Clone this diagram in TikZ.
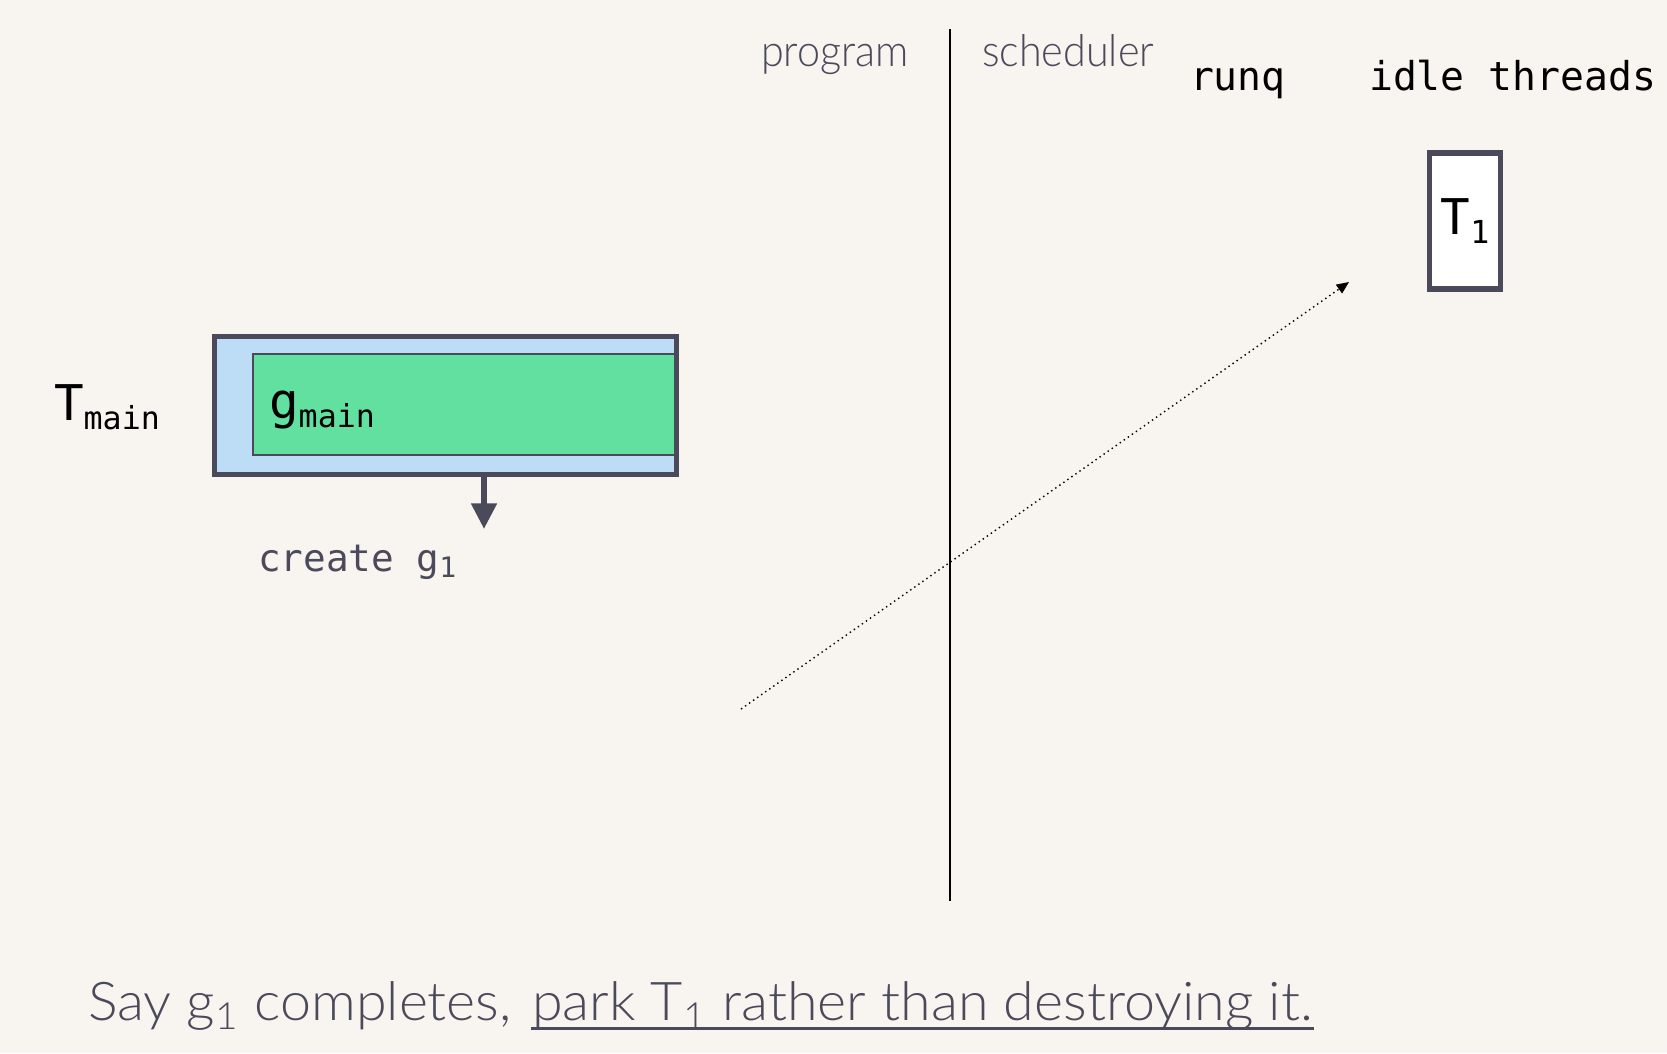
\documentclass[tikz,border=0pt]{standalone}
\usepackage{fontspec}
\setmainfont{Lato}
\setmonofont{DejaVu Sans Mono}
\newfontfamily\capfont[FakeStretch=1.04]{Lato Light}
\newfontfamily\labfont[FakeStretch=0.94]{Lato Light}
\usetikzlibrary{arrows.meta, positioning}
\definecolor{bgcol}{RGB}{248,244,240}
\definecolor{ink}{RGB}{74,74,90}
\definecolor{threadblue}{RGB}{189,220,245}
\definecolor{gorgreen}{RGB}{98,224,160}
\tikzset{every path/.style={semithick}}
\newcommand{\monosub}[2]{#1\raisebox{-0.35ex}{\fontsize{9}{9}\selectfont #2}}

\begin{document}
\begin{tikzpicture}[x=0.01cm, y=-0.01cm,
    label/.style={inner sep=0pt, anchor=base west},
    thread/.style={draw=ink, line width=1.45pt, inner sep=0pt},
  ]
    \fill[bgcol] (0,0) rectangle (1667,1053);

    % program / scheduler split
    \coordinate (top) at (950,29);
    \coordinate (bottom) at (950,901);
    \draw[line width=0.75pt] (top) -- (bottom);
    \node[label, text=ink, font=\labfont\fontsize{12.5}{12.5}\selectfont] (prog) at (760,66) {program};
    \node[label, text=ink, font=\labfont\fontsize{12.5}{12.5}\selectfont] (sched) at (981,66) {scheduler};

    \node[label, font=\ttfamily\fontsize{11.3}{11.3}\selectfont] (runq) at (1189,90) {runq};
    \node[label, font=\ttfamily\fontsize{11.3}{11.3}\selectfont] (idle) at (1368,90) {idle threads};

    % parked thread
    \node[thread, fill=white, minimum width=71*0.01cm, minimum height=136*0.01cm,
          font=\ttfamily\fontsize{14}{14}\selectfont] (t1) at (1465,221) {\monosub{T}{1}};

    % main thread and its goroutine
    \node[thread, fill=threadblue, minimum width=462*0.01cm, minimum height=138*0.01cm] (tmain) at (445.5,405.5) {};
    \node[draw=ink, line width=0.6pt, fill=gorgreen, inner sep=0pt,
          minimum width=422*0.01cm, minimum height=101*0.01cm] (gmain) at (464,404.5) {};
    \node[label, font=\ttfamily\fontsize{14}{14}\selectfont] (gname) at (268,418) {\monosub{g}{main}};
    \node[label, font=\ttfamily\fontsize{14}{14}\selectfont] (tname) at (53,420) {\monosub{T}{main}};

    \node[label, text=ink, font=\ttfamily\fontsize{10.7}{10.7}\selectfont] (create) at (257,571)
      {create g\raisebox{-0.3ex}{\fontsize{8}{8}\selectfont 1}};
    \coordinate (tip) at (484,529);
    \draw[ink, line width=1.7pt, -{Triangle[length=7.3pt, width=7pt]}] (tmain.south -| tip) -- (tip);

    % handoff to idle list
    \coordinate (from) at (741,709);
    \coordinate (to) at (1349,282);
    \draw[thin, densely dotted, -{Triangle[length=3.5pt, width=3pt]}] (from) -- (to);

    % caption
    \node[label, text=ink, font=\capfont\fontsize{15.2}{15.2}\selectfont] (cap1) at (87,1020)
      {Say g\textsubscript{1} completes,};
    \node[label, text=ink, font=\capfont\fontsize{15.2}{15.2}\selectfont] (cap2) at (531,1020)
      {park T\textsubscript{1} rather than destroying it.};
    \draw[ink, line width=0.8pt] ([yshift=-2.3pt]cap2.base west) -- ([yshift=-2.3pt]cap2.base east);
\end{tikzpicture}
\end{document}
